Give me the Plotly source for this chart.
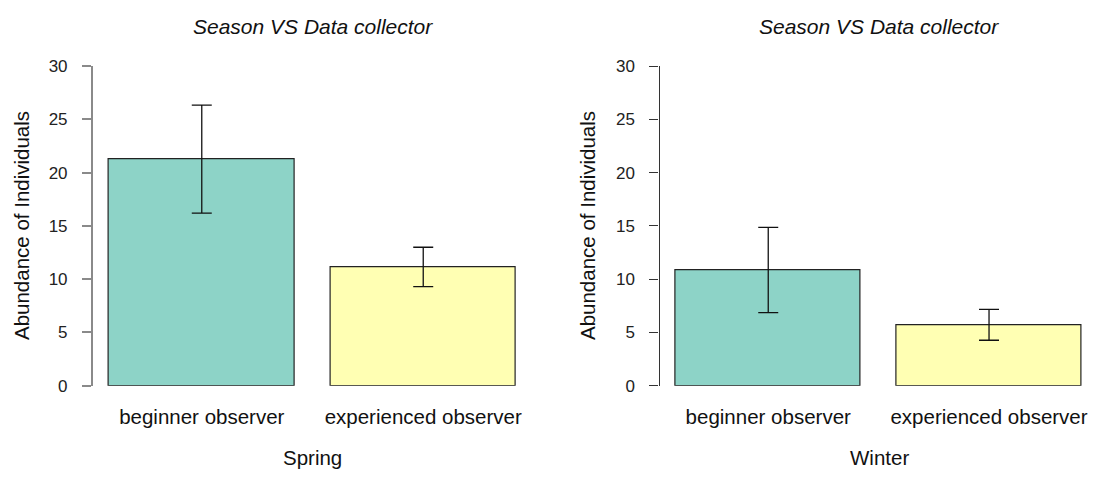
import plotly.graph_objects as go

categories = ["beginner observer", "experienced observer"]
spring_means = [21.27, 11.15]
spring_se = [5.07, 1.85]
winter_means = [10.87, 5.72]
winter_se = [4.0, 1.45]
bar_colors = ["#8DD3C7", "#FFFFB3"]
y_ticks = [0, 5, 10, 15, 20, 25, 30]
panel_titles = ["Season VS Data collector", "Season VS Data collector"]
season_labels = ["Spring", "Winter"]
y_title = "Abundance of Individuals"

W, H = 1097, 479
FONT = "Liberation Sans, Arial, sans-serif"

fig = go.Figure()

panels = [
    (spring_means, spring_se, "x", "y"),
    (winter_means, winter_se, "x2", "y2"),
]
for means, se, xa, ya in panels:
    fig.add_trace(go.Bar(
        x=categories, y=means, xaxis=xa, yaxis=ya,
        width=0.837,
        marker=dict(color=bar_colors, line=dict(color="#222222", width=1.2)),
        error_y=dict(type="data", array=se, visible=True, color="#111111",
                     thickness=1.3, width=10),
        showlegend=False,
    ))

# pixel geometry
left_dom = [92.7 / W, 532.3 / W]
right_dom = [659.5 / W, 1.0]
y_dom = [(H - 392.3) / H, (H - 59.5) / H]

xcommon = dict(showline=False, ticks="", showgrid=False, zeroline=False,
               tickfont=dict(family=FONT, size=20.5, color="#111111"),
               ticklabelstandoff=17, fixedrange=True)
ycommon = dict(range=[0, 30], tickvals=y_ticks, showline=True, ticks="outside",
               ticklen=9, showgrid=False, zeroline=False,
               tickfont=dict(family=FONT, size=17, color="#222222"),
               ticklabelstandoff=11, fixedrange=True)

fig.update_layout(
    width=W, height=H,
    margin=dict(l=0, r=0, t=0, b=0),
    paper_bgcolor="white", plot_bgcolor="white",
    xaxis=dict(domain=left_dom, range=[-0.4925, 1.4925], anchor="y", **xcommon),
    xaxis2=dict(domain=right_dom, range=[-0.4925, 1.489], anchor="y2", **xcommon),
    yaxis=dict(domain=y_dom, anchor="x", linecolor="#8a8a8a", linewidth=1.5,
               tickcolor="#8a8a8a", tickwidth=1.5, **ycommon),
    yaxis2=dict(domain=y_dom, anchor="x2", linecolor="#333333", linewidth=1.2,
                tickcolor="#333333", tickwidth=1.2, **ycommon),
    bargap=0,
)

annots = []
for i, dom in enumerate([left_dom, [659.5 / W, (659.5 + 439.6) / W]]):
    cx = (dom[0] + dom[1]) / 2
    annots.append(dict(text=panel_titles[i], x=cx, y=1 - 18 / H, xref="paper", yref="paper",
                       showarrow=False, xanchor="center", yanchor="middle",
                       font=dict(family=FONT, size=21, color="#111111", style="italic")))
    annots.append(dict(text=season_labels[i], x=cx, y=1 - 467 / H, xref="paper", yref="paper",
                       showarrow=False, xanchor="center", yanchor="middle",
                       font=dict(family=FONT, size=20.5, color="#111111")))
for px in [21, 587]:
    annots.append(dict(text=y_title, x=px / W, y=1 - 226 / H, xref="paper", yref="paper",
                       showarrow=False, xanchor="center", yanchor="middle", textangle=-90,
                       font=dict(family=FONT, size=20.5, color="#111111")))
fig.update_layout(annotations=annots)

fig.write_html(
    "out.html",
    config={"displayModeBar": False},
    post_script="document.body.style.margin='0';document.body.style.overflow='hidden';",
)
